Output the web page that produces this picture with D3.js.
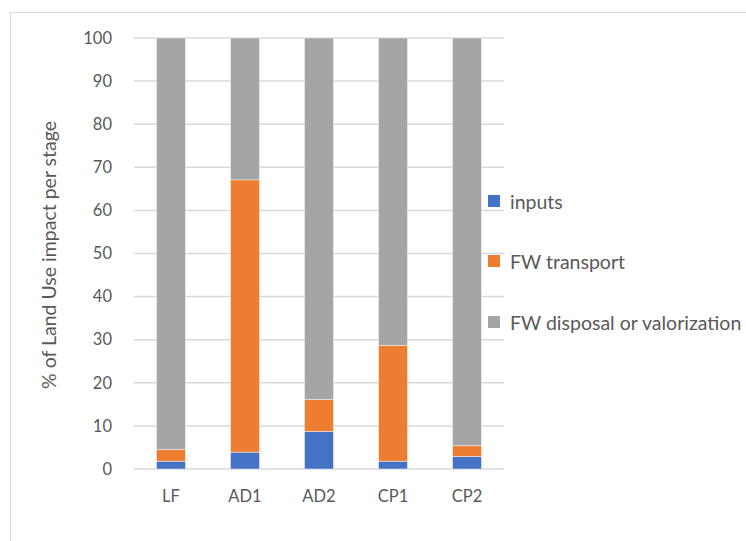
<!DOCTYPE html>
<html>
<head>
<meta charset="utf-8">
<script src="https://cdn.jsdelivr.net/npm/d3@7"></script>
<style>
  html, body { margin: 0; padding: 0; background: #fff; }
  svg { display: block; }
  text { font-family: Lato, "Open Sans", sans-serif; fill: #595959; }
</style>
</head>
<body>
<svg id="chart" width="746" height="541"></svg>
<script>
// Stages and each stage's share of the land use impact (%)
const categories = ["LF", "AD1", "AD2", "CP1", "CP2"];
const inputs = [1.8, 3.9, 8.7, 1.8, 2.9];
const fwTransport = [2.7, 63.2, 7.4, 26.9, 2.5];
const fwDisposal = [95.5, 32.9, 83.9, 71.3, 94.6];
const seriesNames = ["inputs", "FW transport", "FW disposal or valorization"];
const seriesColors = ["#4472C4", "#ED7D31", "#A5A5A5"];
const yTicks = [0, 10, 20, 30, 40, 50, 60, 70, 80, 90, 100];

const rows = categories.map((c, i) => ({
  stage: c,
  "inputs": inputs[i],
  "FW transport": fwTransport[i],
  "FW disposal or valorization": fwDisposal[i]
}));

const svg = d3.select("#chart");

// chart frame
svg.append("rect")
  .attr("x", 10.5).attr("y", 12.5)
  .attr("width", 760).attr("height", 560)
  .attr("fill", "none")
  .attr("stroke", "#d9d9d9")
  .attr("stroke-width", 1);

const x = d3.scaleBand()
  .domain(categories)
  .range([134, 504])
  .paddingInner(0.608)
  .paddingOuter(0.304);

const y = d3.scaleLinear()
  .domain([0, 100])
  .range([469, 38]);

// horizontal gridlines
svg.append("g")
  .selectAll("line")
  .data(yTicks)
  .join("line")
  .attr("x1", 134).attr("x2", 504)
  .attr("y1", d => y(d)).attr("y2", d => y(d))
  .attr("stroke", "#d9d9d9")
  .attr("stroke-width", 1.5);

// y axis tick labels
const yAxis = d3.axisLeft(y).tickValues(yTicks).tickSize(0).tickPadding(0);
svg.append("g")
  .attr("transform", "translate(112,0)")
  .call(yAxis)
  .call(g => g.select(".domain").remove())
  .call(g => g.selectAll("text")
    .attr("font-size", 16.5)
    .attr("fill", "#595959")
    .style("font-family", "Lato, sans-serif"));

// x axis category labels
const xAxis = d3.axisBottom(x).tickSize(0).tickPadding(0);
svg.append("g")
  .attr("transform", "translate(0,490)")
  .call(xAxis)
  .call(g => g.select(".domain").remove())
  .call(g => g.selectAll("text")
    .attr("font-size", 16.5)
    .attr("fill", "#595959")
    .style("font-family", "Lato, sans-serif"));

// stacked bars
const stack = d3.stack().keys(seriesNames);
const layers = stack(rows);

svg.append("g")
  .selectAll("g")
  .data(layers)
  .join("g")
  .attr("fill", (d, i) => seriesColors[i])
  .selectAll("rect")
  .data(d => d)
  .join("rect")
  .attr("x", d => x(d.data.stage))
  .attr("width", x.bandwidth())
  .attr("y", d => y(d[1]))
  .attr("height", d => y(d[0]) - y(d[1]))
  .attr("stroke", "#ffffff")
  .attr("stroke-opacity", 0.6)
  .attr("stroke-width", 0.75);

// y axis title
svg.append("text")
  .attr("transform", "translate(48,255) rotate(-90)")
  .attr("text-anchor", "middle")
  .attr("dominant-baseline", "central")
  .attr("font-size", 19.5)
  .text("% of Land Use impact per stage");

// legend
const legendY = [201, 261, 322];
const legend = svg.append("g")
  .selectAll("g")
  .data(seriesNames)
  .join("g")
  .attr("transform", (d, i) => `translate(488,${legendY[i]})`);

legend.append("rect")
  .attr("x", 0).attr("y", -6)
  .attr("width", 12).attr("height", 12)
  .attr("fill", (d, i) => seriesColors[i]);

legend.append("text")
  .attr("x", 22)
  .attr("y", 0)
  .attr("dominant-baseline", "central")
  .attr("font-size", 19.5)
  .text(d => d);
</script>
</body>
</html>
